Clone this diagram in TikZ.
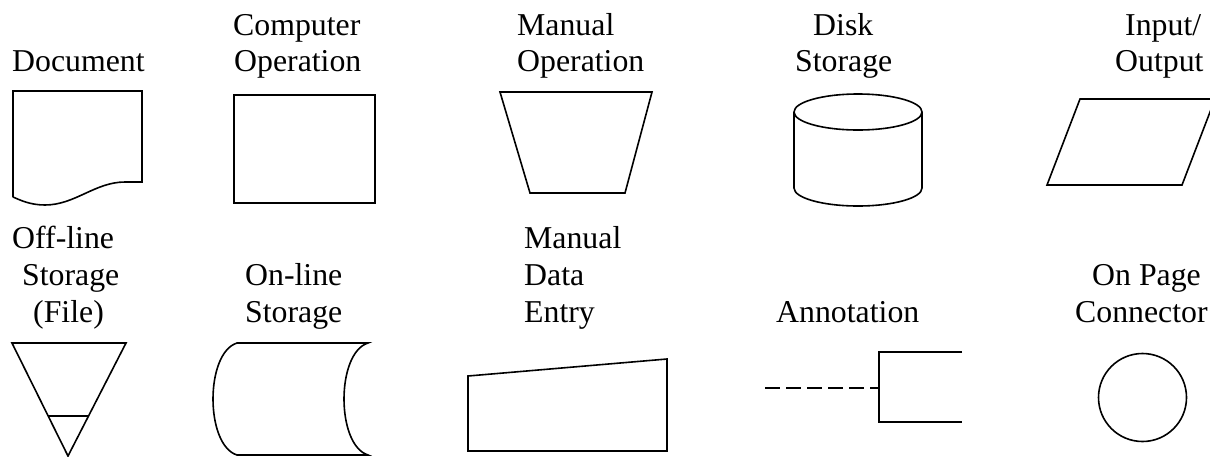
\documentclass[tikz,border=0pt]{standalone}
\usepackage{fontspec}
\setmainfont{Liberation Serif}
\begin{document}
\begin{tikzpicture}[x=1pt,y=-1pt,
  lbl/.style={anchor=base west,inner sep=0pt,font=\fontsize{31.8}{36}\selectfont},
  shp/.style={draw=black,line width=1.6pt,line join=miter},
  dashline/.style={draw=black,line width=1.6pt,dash pattern=on 15pt off 6pt}]
\useasboundingbox (0,0) rectangle (1210,456);
% ---- labels row 1
\node[lbl] (doc) at (12,71) {Document};
\node[lbl] (co1) at (233,35) {Computer};
\node[lbl] (co2) at (234,71) {Operation};
\node[lbl] (mo1) at (517,35) {Manual};
\node[lbl] (mo2) at (517,71) {Operation};
\node[lbl] (ds1) at (813,35) {Disk};
\node[lbl] (ds2) at (795,71) {Storage};
\node[lbl] (io1) at (1125,35) {Input/};
\node[lbl] (io2) at (1115,71) {Output};
% ---- labels row 2
\node[lbl] (off1) at (12,248) {Off-line};
\node[lbl] (off2) at (22,285) {Storage};
\node[lbl] (off3) at (33,322) {(File)};
\node[lbl] (on1) at (245,285) {On-line};
\node[lbl] (on2) at (245,322) {Storage};
\node[lbl] (md1) at (524,248) {Manual};
\node[lbl] (md2) at (524,285) {Data};
\node[lbl] (md3) at (524,322) {Entry};
\node[lbl] (an) at (776,322) {Annotation};
\node[lbl] (op1) at (1092,285) {On Page};
\node[lbl] (op2) at (1075,322) {Connector};
% ---- shapes row 1
% Document
\draw[shp] (13,197) -- (13,91) -- (142,91) -- (142,182) -- (125,182)
  .. controls (95,182) and (75,205) .. (45,205)
  .. controls (30,205) and (20,200) .. (13,197);
% Computer operation
\draw[shp] (234,95) rectangle (375,203);
% Manual operation
\draw[shp] (500,92) -- (652,92) -- (625,193) -- (530,193) -- cycle;
% Disk storage
\draw[shp] (858,112) ellipse [x radius=64, y radius=18];
\draw[shp] (794,112) -- (794,188) arc[start angle=180, end angle=0, x radius=64, y radius=18] -- (922,112);
% Input / Output
\draw[shp] (1080,99) -- (1215,99) -- (1182,185) -- (1047,185) -- cycle;
% ---- shapes row 2
% Off-line storage
\draw[shp] (12,343) -- (126,343) -- (68,456) -- cycle;
\draw[shp] (48,416) -- (89,416);
% On-line storage
\draw[shp] (237,343) -- (368,343) .. controls (336,353) and (336,445) .. (368,455)
  -- (237,455) .. controls (205,445) and (205,353) .. (237,343) -- cycle;
% Manual data entry
\draw[shp] (468,376) -- (667,359) -- (667,451) -- (468,451) -- cycle;
% Annotation
\coordinate (a0) at (765,388);
\coordinate (a1) at (879,388);
\draw[dashline] (a0) -- (a1);
\draw[shp] (962,352) -- (879,352) -- (879,422) -- (962,422);
% On page connector
\draw[shp] (1142.5,397.5) circle [radius=44];
\end{tikzpicture}
\end{document}
